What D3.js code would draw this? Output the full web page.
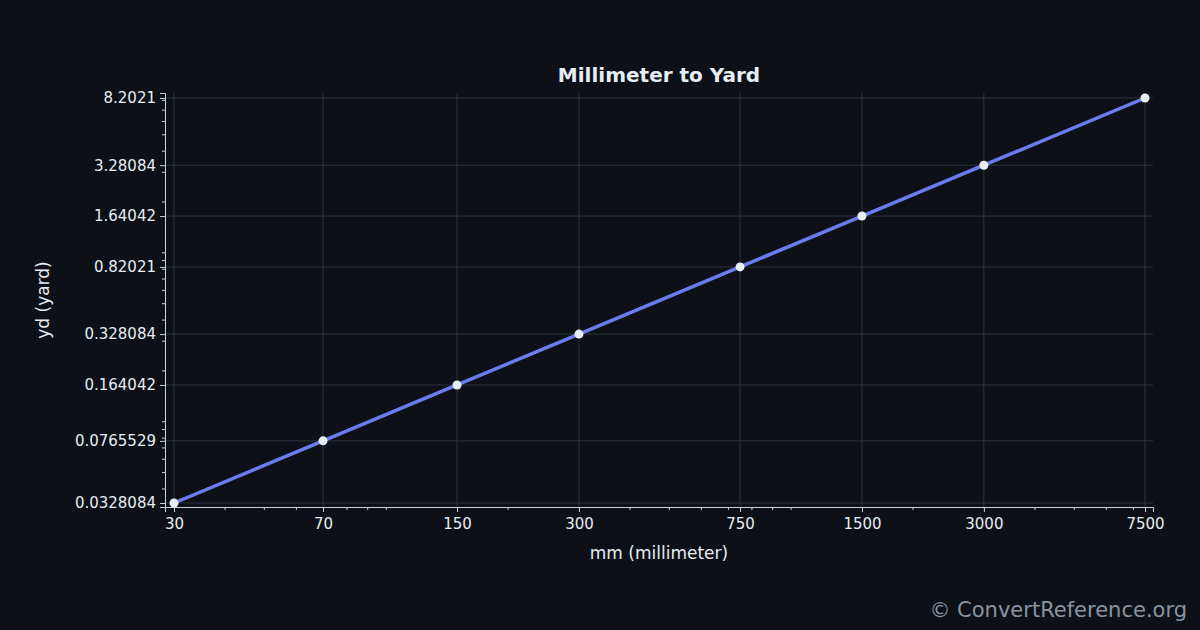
<!DOCTYPE html><html><head><meta charset="utf-8"><script src="https://cdn.jsdelivr.net/npm/d3@7"></script>
<style>body{margin:0;background:#0d1117}text{font-family:"DejaVu Sans",sans-serif}</style></head><body><svg id="c" width="1200" height="630"></svg><script>
const mm=[30,70,150,300,750,1500,3000,7500];
const yd=[0.0328084,0.0765529,0.164042,0.328084,0.82021,1.64042,3.28084,8.2021];
const yLabels=["0.0328084","0.0765529","0.164042","0.328084","0.82021","1.64042","3.28084","8.2021"];
const svg=d3.select("#c");
svg.append("rect").attr("width",1200).attr("height",630).attr("fill","#0d1117");
const L=165,R=1153,T=93,B=507;
const x=d3.scaleLog().domain([28.5,7849]).range([L,R]);
const y=d3.scaleLog().domain([0.03107,8.781]).range([B,T]);
const g=svg.append("g");
mm.forEach(v=>g.append("line").attr("x1",x(v)).attr("x2",x(v)).attr("y1",T).attr("y2",B).attr("stroke","#2a323c").attr("stroke-width",1));
yd.forEach(v=>g.append("line").attr("x1",L).attr("x2",R).attr("y1",y(v)).attr("y2",y(v)).attr("stroke","#2a323c").attr("stroke-width",1));
const xa=svg.append("g").attr("transform",`translate(0,${B})`).call(d3.axisBottom(x).tickValues(mm).tickFormat(d3.format("d")).tickSize(5).tickPadding(6));
const xm=svg.append("g").attr("transform",`translate(0,${B})`).call(d3.axisBottom(x).tickValues(x.ticks().filter(t=>!mm.includes(t))).tickFormat("").tickSize(3));
const ya=svg.append("g").attr("transform",`translate(${L},0)`).call(d3.axisLeft(y).tickValues(yd).tickFormat((d,i)=>yLabels[i]).tickSize(5).tickPadding(4));
const ym=svg.append("g").attr("transform",`translate(${L},0)`).call(d3.axisLeft(y).tickValues(y.ticks()).tickFormat("").tickSize(3));
[xa,xm,ya,ym].forEach(a=>{a.selectAll("path,line").attr("stroke","#c9d1d9");a.selectAll("text").attr("fill","#e6edf3").attr("font-size",15);});
xm.select("path").remove();ym.select("path").remove();
const line=d3.line().x((d,i)=>x(mm[i])).y(d=>y(d));
svg.append("path").datum(yd).attr("d",line).attr("fill","none").attr("stroke","#6b7cf2").attr("stroke-width",3.5);
svg.selectAll("circle").data(yd).join("circle").attr("cx",(d,i)=>x(mm[i])).attr("cy",d=>y(d)).attr("r",4.5).attr("fill","#e6edf3");
svg.append("text").attr("x",659).attr("y",82).attr("text-anchor","middle").attr("fill","#e6edf3").attr("font-size",20).attr("font-weight","bold").text("Millimeter to Yard");
svg.append("text").attr("x",659).attr("y",559).attr("text-anchor","middle").attr("fill","#e6edf3").attr("font-size",17).text("mm (millimeter)");
svg.append("text").attr("transform","translate(49,300) rotate(-90)").attr("text-anchor","middle").attr("fill","#e6edf3").attr("font-size",17).text("yd (yard)");
svg.append("text").attr("x",1187).attr("y",617).attr("text-anchor","end").attr("fill","#8b949e").attr("font-size",21).text("© ConvertReference.org");
</script></body></html>
